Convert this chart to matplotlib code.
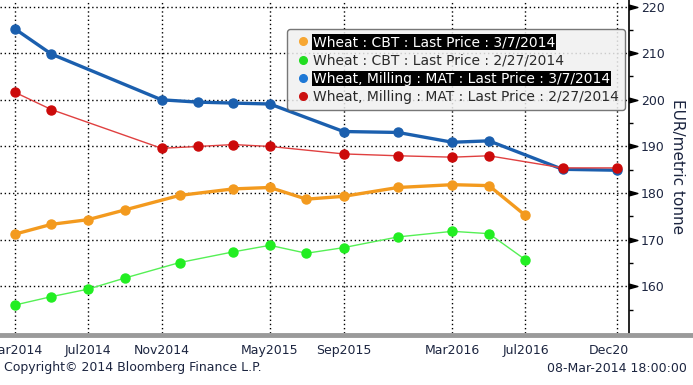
import matplotlib
matplotlib.use("Agg")
import matplotlib.pyplot as plt
from matplotlib.lines import Line2D
from matplotlib.patches import Rectangle
from matplotlib.path import Path
import pandas as pd

# MATIF milling wheat curve (EUR/t)
mat_dates = ["2014-03-01", "2014-05-01", "2014-11-01", "2015-01-01", "2015-03-01", "2015-05-01",
             "2015-09-01", "2015-12-01", "2016-03-01", "2016-05-01", "2016-09-01", "2016-12-01"]
mat_mar07 = [215.2, 209.8, 200.0, 199.5, 199.3, 199.1, 193.2, 193.0, 190.9, 191.2, 185.1, 184.9]
mat_feb27 = [201.6, 197.9, 189.6, 190.0, 190.4, 190.0, 188.4, 188.0, 187.7, 188.0, 185.4, 185.4]

# CBT wheat curve converted to EUR/t
cbt_dates = ["2014-03-01", "2014-05-01", "2014-07-01", "2014-09-01", "2014-12-01", "2015-03-01",
             "2015-05-01", "2015-07-01", "2015-09-01", "2015-12-01", "2016-03-01", "2016-05-01",
             "2016-07-01"]
cbt_mar07 = [171.2, 173.3, 174.3, 176.4, 179.5, 180.9, 181.2, 178.7, 179.3, 181.2, 181.8, 181.6, 175.2]
cbt_feb27 = [156.0, 157.8, 159.4, 161.8, 165.1, 167.4, 168.8, 167.1, 168.3, 170.6, 171.8, 171.3, 165.7]

tick_dates = ["2014-03-01", "2014-07-01", "2014-11-01", "2015-05-01", "2015-09-01",
              "2016-03-01", "2016-07-01", "2016-12-01"]
tick_labels = ["Mar2014", "Jul2014", "Nov2014", "May2015", "Sep2015", "Mar2016", "Jul2016", "Dec2016"]

legend_labels = ["Wheat : CBT : Last Price : 3/7/2014",
                 "Wheat : CBT : Last Price : 2/27/2014",
                 "Wheat, Milling : MAT : Last Price : 3/7/2014",
                 "Wheat, Milling : MAT : Last Price : 2/27/2014"]

ORANGE = "#f39a1e"
GREEN = "#22ee22"
BLUE = "#1b5fae"
RED = "#cc0a0a"
TXT = "#1c2540"

plt.rcParams["font.family"] = "DejaVu Sans"

fig = plt.figure(figsize=(6.93, 3.85), dpi=100)
W, H = 693, 385
ax = fig.add_axes([0, 52 / H, 629 / W, 333 / H])

md = pd.to_datetime(mat_dates)
cd = pd.to_datetime(cbt_dates)

ax.plot(cd, cbt_feb27, color="#55f055", lw=1.0, marker="o", ms=6.5,
        mfc=GREEN, mec=GREEN, zorder=3)
ax.plot(cd, cbt_mar07, color=ORANGE, lw=2.4, marker="o", ms=6.5,
        mfc=ORANGE, mec=ORANGE, zorder=3)
ax.plot(md, mat_mar07, color=BLUE, lw=2.4, marker="o", ms=6.5,
        mfc=BLUE, mec=BLUE, zorder=4)
ax.plot(md, mat_feb27, color="#e04040", lw=1.0, marker="o", ms=6.5,
        mfc=RED, mec=RED, zorder=5)

ax.set_xlim(pd.Timestamp("2014-02-04"), pd.Timestamp("2016-12-21"))
ax.set_ylim(150, 221.4)

ax.set_xticks(pd.to_datetime(tick_dates))
ax.set_xticklabels(tick_labels)
ax.set_yticks(range(160, 221, 10))
ax.set_yticks(range(155, 221, 10), minor=True)
ax.xaxis.set_minor_locator(matplotlib.ticker.NullLocator())

ax.grid(True, which="major", color="black", linestyle=(0, (1, 2)), linewidth=1.0)

for s in ["left", "top", "bottom"]:
    ax.spines[s].set_visible(False)
ax.spines["right"].set_color("black")
ax.spines["right"].set_linewidth(1.2)

ax.yaxis.tick_right()
ax.yaxis.set_label_position("right")
ax.tick_params(axis="x", length=0, pad=8, labelsize=9, labelcolor=TXT)
ax.tick_params(axis="y", which="major", length=12, width=1, pad=-3.5, labelsize=9,
               labelcolor=TXT, color="black")
ax.tick_params(axis="y", which="minor", length=3, width=1, color="black")

# small right-pointing arrow heads for the major ticks
arrow = Path([(0, -0.28), (1, 0), (0, 0.28), (0, -0.28)],
             [Path.MOVETO, Path.LINETO, Path.LINETO, Path.CLOSEPOLY])
for t in ax.yaxis.get_major_ticks():
    t.tick2line.set_marker(arrow)
    t.tick2line.set_markerfacecolor("black")

ax.set_ylabel("EUR/metric tonne", rotation=270, va="bottom", fontsize=11,
              color=TXT, labelpad=4)

# clip the x labels at the right edge of the plot area
clip = Rectangle((0, 0), 629 / W, 1, transform=fig.transFigure)
for t in ax.xaxis.get_major_ticks():
    t.label1.set_clip_path(clip)

handles = [Line2D([], [], ls="none", marker="o", ms=5.5, mfc=c, mec=c)
           for c in ["#f7a733", "#22dd22", "#1e78d6", "#cc1111"]]
leg = ax.legend(handles, legend_labels, loc="upper left", bbox_to_anchor=(287 / 629, 1 - 29 / 333),
                borderaxespad=0, fontsize=10, handlelength=1.4, handletextpad=0.0,
                labelspacing=0.3, borderpad=0.45, frameon=True, framealpha=0.85,
                facecolor="#f0f0f0", edgecolor="#606060")
leg.get_frame().set_linewidth(1.0)
for i, txt in enumerate(leg.get_texts()):
    if i in (0, 2):
        txt.set_color("white")
        txt.set_bbox(dict(facecolor="black", edgecolor="none", pad=0.6))
    else:
        txt.set_color("#2a2a2a")

# grey base bar
fig.add_artist(Line2D([0, 1], [50 / H, 50 / H], transform=fig.transFigure,
                      color="#9a9a9a", lw=3.5))

fig.text(4 / W, 1 - 368 / H, "Copyright\u00a9 2014 Bloomberg Finance L.P.", fontsize=9,
         color=TXT, va="center", ha="left")
fig.text(687 / W, 1 - 368 / H, "08-Mar-2014 18:00:00", fontsize=9,
         color=TXT, va="center", ha="right")

fig.savefig("out.png", dpi=100)
